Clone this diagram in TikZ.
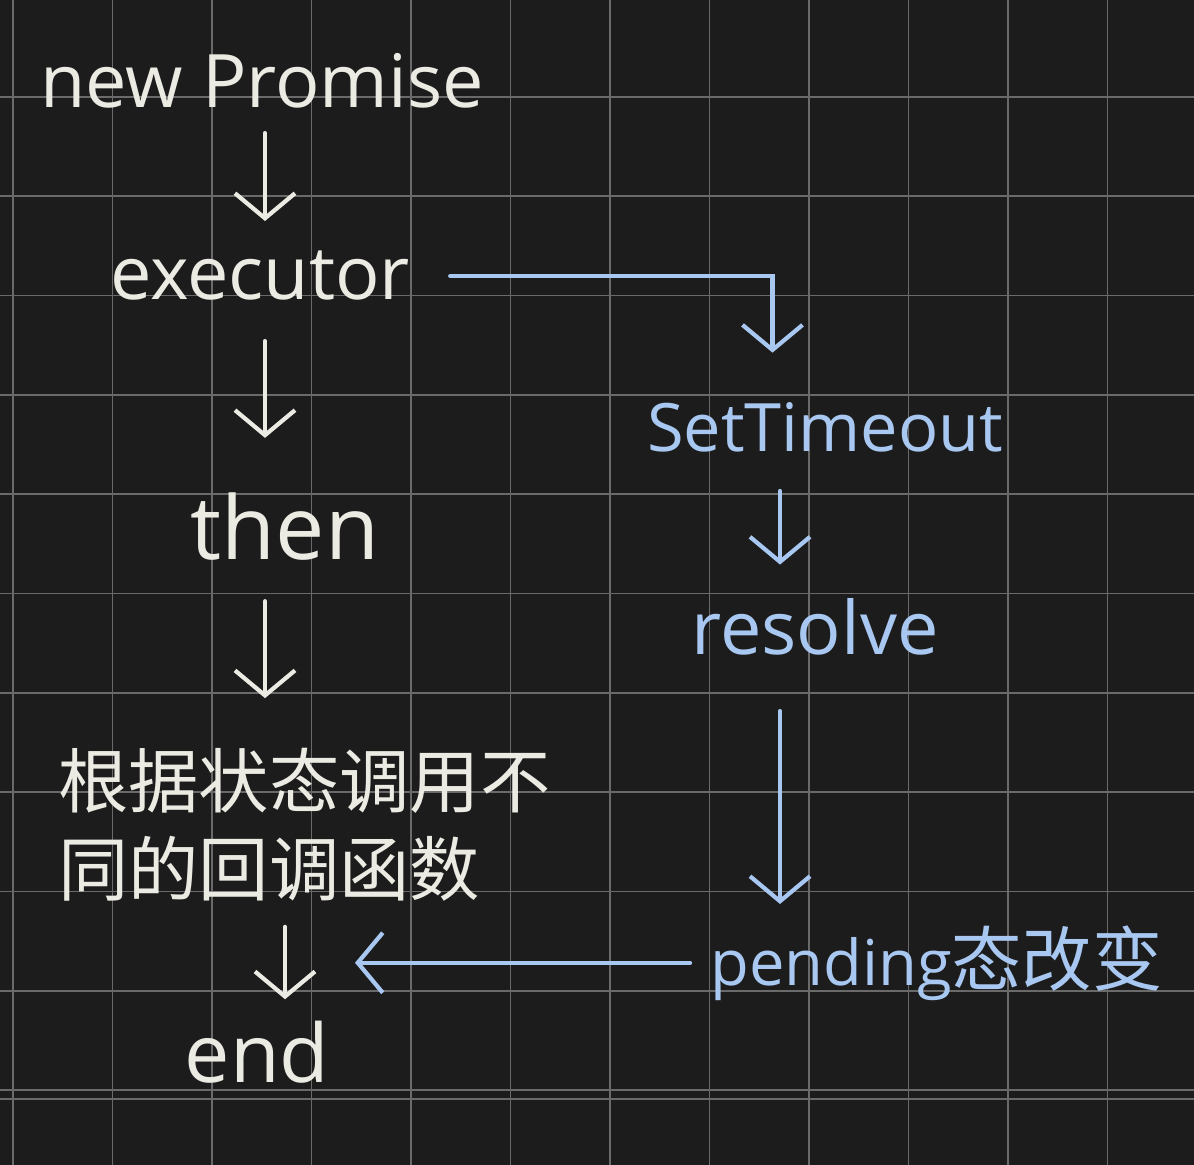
\documentclass[tikz,border=0pt]{standalone}
\usepackage{fontspec}
\setmainfont{Open Sans}
\newfontfamily\cjk{Noto Sans CJK SC}
\usetikzlibrary{arrows.meta}
\definecolor{board}{HTML}{1C1C1C}
\definecolor{gridline}{HTML}{6A6A6A}
\definecolor{chalk}{HTML}{ECEBE3}
\definecolor{ink}{HTML}{A8C8F2}

\begin{document}
\begin{tikzpicture}[
        x=0.02cm, y=-0.02cm,
        % stili generali
        word/.style={font=\fontsize{42}{48}\selectfont, text=chalk, inner sep=0pt, anchor=base},
        blueword/.style={word, text=ink},
        hanzi/.style={font=\cjk\fontsize{40}{50}\selectfont, text=chalk, inner sep=0pt, align=left, anchor=west},
        wflow/.style={draw=chalk, line width=2.4pt, line cap=round, -{Straight Barb[length=0.5cm, width=1.2cm]}},
        bflow/.style={wflow, draw=ink},
        gridrule/.style={draw=gridline, line width=1pt}
    ]

    % 1. Lavagna e griglia
    \useasboundingbox (0,0) rectangle (1194,1165);
    \fill[board] (0,0) rectangle (1194,1165);
    \foreach \gx in {0,...,11}
        \draw[gridrule] ({13+99.5*\gx}, 0) -- ({13+99.5*\gx}, 1165);
    \foreach \gy in {1,...,11}
        \draw[gridrule] (0, {-2.3+99.3*\gy}) -- (1194, {-2.3+99.3*\gy});
    \draw[gridrule] (0, 1099) -- (1194, 1099);

    % colonne delle frecce
    \coordinate (colL) at (265, 0);
    \coordinate (colR) at (780, 0);

    % 2. Ramo principale (bianco)
    \node[word] (newp) at (262, 108) {new Promise};
    \node[word] (exec) at (260, 300) {executor};
    \node[word, font=\fontsize{50}{56}\selectfont] (then) at (285, 560) {then};
    \node[hanzi] (cb) at (58, 825) {根据状态调用不\\同的回调函数};
    \node[word, font=\fontsize{46}{50}\selectfont] (endn) at (257, 1082) {end};

    % 3. Ramo asincrono (blu)
    \node[blueword, font=\fontsize{38}{44}\selectfont] (st) at (825, 452) {SetTimeout};
    \node[blueword] (res) at (815, 655) {resolve};
    \node[blueword, anchor=base west, font=\fontsize{36}{40}\selectfont] (pend) at (710, 985) {pending{\cjk\fontsize{40}{40}\selectfont 态改变}};
    \coordinate (back) at (355, 967);

    % 4. Frecce bianche
    \draw[wflow, shorten <=0.48cm, shorten >=0.6cm] (newp.south -| colL) -- (exec.north -| colL);
    \draw[wflow, shorten <=0.8cm, shorten >=1.1cm] (exec.south -| colL) -- (then.north -| colL);
    \draw[wflow, shorten <=0.8cm, shorten >=1cm] (then.south -| colL) -- (cb.north -| colL);
    \draw[wflow, shorten <=0.5cm, shorten >=0.42cm] (cb.south -| then.north) -- (endn.north -| then.north);

    % 5. Frecce blu
    \draw[bflow, shorten <=0.8cm, shorten >=1cm] (exec.east) -| ([xshift=-1.05cm]st.north);
    \draw[bflow, shorten <=0.76cm, shorten >=0.68cm] (st.south -| colR) -- (res.north -| colR);
    \draw[bflow, shorten <=1.1cm, shorten >=0.42cm] (res.south -| colR) -- (pend.north -| colR);
    \draw[bflow, shorten <=0.4cm] (pend.west) -- (back |- pend.west);

\end{tikzpicture}
\end{document}
